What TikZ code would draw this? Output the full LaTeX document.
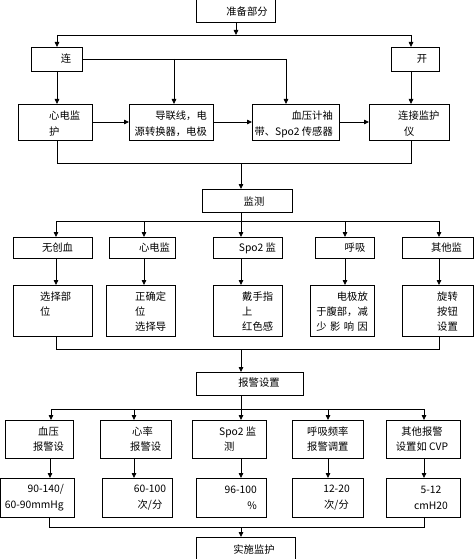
\documentclass[tikz,border=0pt]{standalone}
\usepackage{fontspec}
\setmainfont{Noto Sans CJK SC}
\usetikzlibrary{arrows.meta}
\newcommand\bx[5]{\node[box, minimum width={(#4-#2)*1pt}, minimum height={(#5-#3)*1pt}] (#1) at ({(#2+#4)/2},{(#3+#5)/2}) {};}
\tikzset{
  box/.style={draw, line width=0.8pt, inner sep=0pt, outer sep=0pt},
  txt/.style={inner sep=0pt, font=\fontsize{10.3}{16}\selectfont},
  txtb/.style={inner sep=0pt, font=\fontsize{10.3}{15}\selectfont},
  ln/.style={line width=0.8pt},
  arr/.style={line width=0.8pt, -{Triangle[length=5pt,width=4.5pt]}}
}
\begin{document}
\begin{tikzpicture}[x=1pt,y=-1pt]
\useasboundingbox (0,0) rectangle (474,559);
% boxes
\bx{top}{196}{-3}{275}{22.7}
\bx{lian}{31}{47}{82}{71}
\bx{kai}{391}{47}{439}{71}
\bx{xd}{18}{104}{92}{140}
\bx{dl}{129}{104}{213}{140}
\bx{xy}{252}{104}{339}{140}
\bx{lj}{369}{104}{449}{140}
\bx{jc}{202}{189}{292}{212}
\bx{ra}{13}{237}{92}{258}
\bx{rb}{109}{237}{175}{258}
\bx{rc}{213}{237}{282}{258}
\bx{rd}{315}{237}{374}{258}
\bx{re}{402}{237}{473}{258}
\bx{qa}{13}{285}{92}{336}
\bx{qb}{106}{285}{175}{336}
\bx{qc}{213}{285}{282}{336}
\bx{qd}{310}{285}{374}{336}
\bx{qe}{402}{285}{473}{336}
\bx{bj}{196}{372}{303}{395}
\bx{pa}{5}{420}{73}{458}
\bx{pb}{100}{420}{171}{458}
\bx{pc}{192}{420}{266}{458}
\bx{pd}{292}{420}{363}{458}
\bx{pe}{386}{420}{460}{458}
\bx{ua}{0.5}{478}{74}{517}
\bx{ub}{102}{478}{172}{517}
\bx{uc}{196}{478}{266}{517}
\bx{ud}{292}{478}{363}{517}
\bx{ue}{386}{478}{460}{517}
\bx{ss}{196}{537}{295}{563}
% texts
\node[txt] (t0) at (247,12) {准备部分};
\node[txt] (t1) at (66,59) {连};
\node[txt] (t2) at (422,59) {开};
\node[txt, anchor=west, align=left] (t3) at (49,124) {心电监\\护};
\node[txt, anchor=east, align=right] (t4) at (207,124) {导联线，电\\源转换器，电极};
\node[txt, anchor=east, align=right] (t5) at (333,124) {血压计袖\\带、Spo2 传感器};
\node[txt, anchor=west, align=left] (t6) at (398,124) {连接监护\\\hspace{6pt}仪};
\node[txt] (t7) at (254,202) {监测};
\node[txt] (t8) at (57.5,248) {无创血};
\node[txt] (t9) at (154.5,248) {心电监};
\node[txt] (t10) at (257.5,248) {Spo2 监};
\node[txt] (t11) at (355,248) {呼吸};
\node[txt] (t12) at (446.5,248) {其他监};
\node[txtb, anchor=west, align=left] (t13) at (40,304.5) {选择部\\位};
\node[txtb, anchor=west, align=left] (t14) at (135,312) {正确定\\位\\选择导};
\node[txtb, anchor=west, align=left] (t15) at (242,312) {戴手指\\上\\红色感};
\node[txtb, anchor=east, align=right] (t16) at (368,312) {电极放\\于腹部，减\\\makebox[5em][s]{少\hfil 影\hfil 响\hfil 因}};
\node[txtb, anchor=west, align=left] (t17) at (437,312) {旋转\\按钮\\设置};
\node[txt] (t18) at (259,383) {报警设置};
\node[txtb, align=center] (t19) at (48.5,439.5) {血压\\报警设};
\node[txtb, anchor=west, align=left] (t20) at (130,439.5) {\hspace{2pt}心率\\报警设};
\node[txtb, anchor=west, align=left] (t21) at (219,439.5) {Spo2 监\\\hspace{5pt}测};
\node[txtb, anchor=west, align=left] (t22) at (307,439.5) {呼吸频率\\报警调置};
\node[txtb, align=center] (t23) at (422,439.5) {其他报警\\设置如 CVP};
\node[txt, anchor=east, align=right] (t24) at (64,498) {90-140/\\60-90mmHg\hspace{3pt}};
\node[txt, align=center] (t25) at (150,498) {60-100\\次/分};
\node[txt, anchor=east, align=right] (t26) at (257,498) {96-100\\\%\hspace{6pt}};
\node[txt, align=center] (t27) at (336.5,498) {12-20\\次/分};
\node[txt, align=center] (t28) at (431,498) {5-12\\cmH20};
\node[txt] (t29) at (254,550) {实施监护};
% connectors: top
\coordinate (s1l) at (57,35);
\coordinate (s1r) at (411,35);
\draw[arr] (top.south -| 236,0) -- (236,35);
\draw[ln] (s1l) -- (s1r);
\draw[arr] (s1l) -- (s1l |- lian.north);
\draw[arr] (s1r) -- (s1r |- kai.north);
\coordinate (b1) at (174,59);
\coordinate (b2) at (286,59);
\draw[ln] (lian.east) -- (b2);
\draw[arr] (b1) -- (b1 |- dl.north);
\draw[arr] (b2) -- (b2 |- xy.north);
\draw[arr] (lian.south -| s1l) -- (s1l |- xd.north);
\draw[arr] (kai.south -| s1r) -- (s1r |- lj.north);
\draw[arr] (xd.east) -- (dl.west);
\draw[arr] (dl.east) -- (xy.west);
\draw[arr] (xy.east) -- (lj.west);
\coordinate (c1l) at (57,163);
\coordinate (c1r) at (411,163);
\coordinate (c1m) at (241,163);
\draw[ln] (xd.south -| c1l) -- (c1l) -- (c1r) -- (lj.south -| c1r);
\draw[arr] (c1m) -- (c1m |- jc.north);
% monitor row
\coordinate (s2l) at (56,221);
\coordinate (s2r) at (439,221);
\draw[ln] (jc.south -| 241,0) -- (241,221);
\draw[ln] (s2l) -- (s2r);
\foreach \xx/\aa/\bb in {56/ra/qa,144/rb/qb,241/rc/qc,345/rd/qd,439/re/qe}{
  \draw[arr] (\xx,221) -- (\xx,0 |- \aa.north);
  \draw[arr] (\aa.south -| \xx,0) -- (\xx,0 |- \bb.north);
}
\coordinate (c2l) at (56,349);
\coordinate (c2r) at (439,349);
\coordinate (c2m) at (241,349);
\draw[ln] (qa.south -| c2l) -- (c2l) -- (c2r) -- (qe.south -| c2r);
\draw[arr] (c2m) -- (c2m |- bj.north);
% alarm row
\coordinate (s3l) at (51,409);
\coordinate (s3r) at (424,409);
\draw[ln] (bj.south -| 241,0) -- (241,409);
\draw[ln] (s3l) -- (s3r);
\foreach \xx/\aa in {51/pa,134/pb,241/pc,328/pd,424/pe}{
  \draw[arr] (\xx,409) -- (\xx,0 |- \aa.north);
}
\foreach \xx/\aa/\bb in {50/pa/ua,134/pb/ub,241/pc/uc,328/pd/ud,424/pe/ue}{
  \draw[arr] (\aa.south -| \xx,0) -- (\xx,0 |- \bb.north);
}
\coordinate (c3l) at (49,527);
\coordinate (c3r) at (424,527);
\coordinate (c3m) at (241,527);
\draw[ln] (ua.south -| c3l) -- (c3l) -- (c3r) -- (ue.south -| c3r);
\draw[arr] (c3m) -- (c3m |- ss.north);
\end{tikzpicture}
\end{document}
